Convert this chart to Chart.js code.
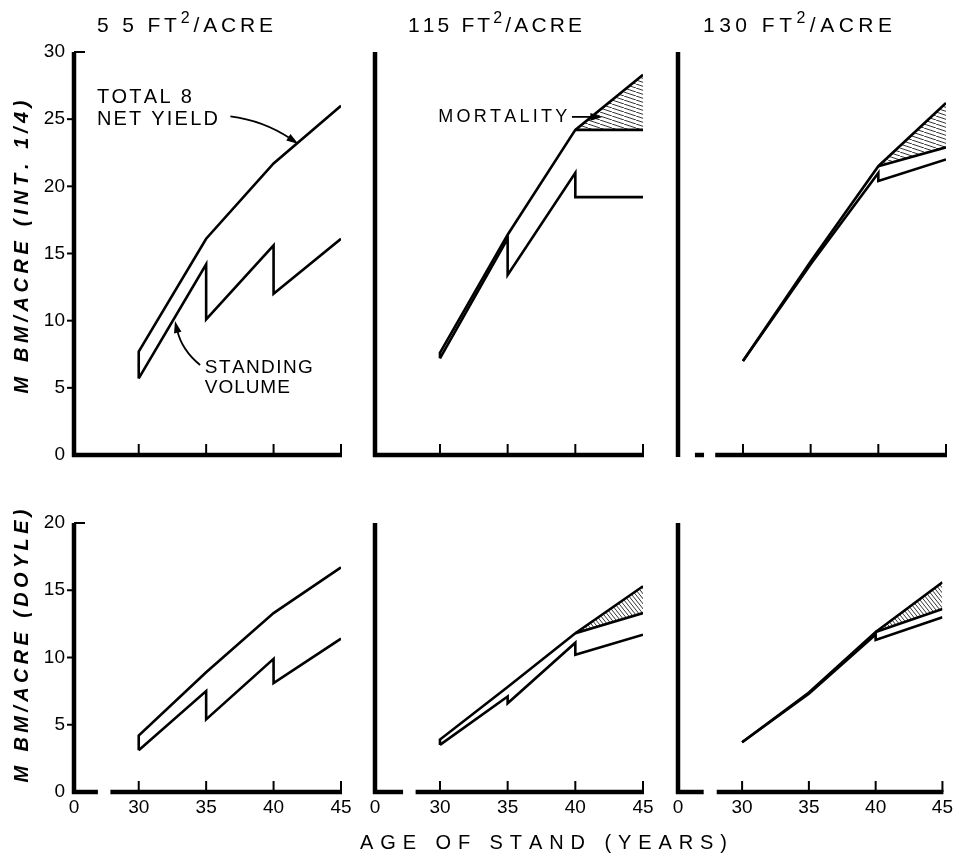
<!DOCTYPE html>
<html>
<head>
<meta charset="utf-8">
<script src="https://cdn.jsdelivr.net/npm/chart.js@4/dist/chart.umd.min.js"></script>
<style>
  body { margin: 0; background: #fff; }
  #figure { position: relative; width: 957px; height: 860px; }
  #figure canvas { position: absolute; left: 0; top: 0; }
</style>
</head>
<body>
<div id="figure">
  <canvas id="top55" width="957" height="860"></canvas>
  <canvas id="top115" width="957" height="860"></canvas>
  <canvas id="top130" width="957" height="860"></canvas>
  <canvas id="bot55" width="957" height="860"></canvas>
  <canvas id="bot115" width="957" height="860"></canvas>
  <canvas id="bot130" width="957" height="860"></canvas>
</div>
<script>
const ages = [30, 35, 40, 45]
const sawAges = [30, 35, 35, 40, 40, 45]
const netAges = [40, 45]
const ageTicks = [30, 35, 40, 45]
const ageTickLabels = ['0', '30', '35', '40', '45']

// M BM/acre, International 1/4 rule (top row)
const total55Int = [7.7, 16.1, 21.7, 26.0]
const stand55Int = [5.7, 14.2, 10.1, 15.6, 12.0, 16.1]
const total115Int = [7.6, 16.4, 24.2, 28.3]
const net115Int = [24.2, 24.2]
const stand115Int = [7.2, 16.1, 13.4, 21.0, 19.2, 19.2]
const total130Int = [7.0, 14.4, 21.5, 26.2]
const net130Int = [21.5, 22.9]
const stand130Int = [7.0, 14.2, 14.2, 21.0, 20.4, 22.0]

// M BM/acre, Doyle rule (bottom row)
const total55Doyle = [4.2, 8.9, 13.3, 16.7]
const stand55Doyle = [3.1, 7.5, 5.4, 9.9, 8.1, 11.4]
const total115Doyle = [3.9, 7.8, 11.8, 15.3]
const net115Doyle = [11.8, 13.3]
const stand115Doyle = [3.5, 7.1, 6.6, 11.1, 10.2, 11.7]
const total130Doyle = [3.7, 7.4, 11.9, 15.6]
const net130Doyle = [11.9, 13.6]
const stand130Doyle = [3.7, 7.3, 7.3, 11.7, 11.3, 13.0]

const family = '"Liberation Sans", Arial, sans-serif'
const xMin = 25.2

Chart.defaults.font.family = family
Chart.defaults.color = '#000'

function makeHatch(w, h) {
  const c = document.createElement('canvas')
  c.width = w
  c.height = h
  const g = c.getContext('2d')
  g.strokeStyle = '#000'
  g.lineWidth = 0.8
  g.beginPath()
  for (const dx of [-w, 0, w]) {
    g.moveTo(dx, 0)
    g.lineTo(dx + w, h)
  }
  g.stroke()
  return g.createPattern(c, 'repeat')
}

const rows = {
  int: { top: 52, bottom: 455, max: 30, labelsX: false, hatch: makeHatch(12, 4) },
  doyle: { top: 523, bottom: 792, max: 20, labelsX: true, hatch: makeHatch(4, 5) },
}

const pairs = (xs, ys) => xs.map((x, i) => ({ x: x, y: ys[i] }))

// text spread to a given width, '²' drawn as a raised small 2
function drawSpread(ctx, text, left, mid, width, size, style) {
  const chars = [...text]
  const fontFor = ch => `${style} ${ch === '²' ? Math.round(size * 0.75) : size}px ${family}`
  const glyph = ch => (ch === '²' ? '2' : ch)
  const widths = chars.map(ch => {
    ctx.font = fontFor(ch)
    return ctx.measureText(glyph(ch)).width
  })
  const natural = widths.reduce((a, b) => a + b, 0)
  const gap = chars.length > 1 ? (width - natural) / (chars.length - 1) : 0
  let x = left
  ctx.textBaseline = 'middle'
  ctx.textAlign = 'left'
  chars.forEach((ch, i) => {
    ctx.font = fontFor(ch)
    ctx.fillText(glyph(ch), x, ch === '²' ? mid - size * 0.33 : mid)
    x += widths[i] + gap
  })
}

function drawArrow(ctx, s, c, t) {
  const ang = Math.atan2(t.y - c.y, t.x - c.x)
  const len = 12
  const half = 3.8
  ctx.lineWidth = 1.8
  ctx.beginPath()
  ctx.moveTo(s.x, s.y)
  ctx.quadraticCurveTo(c.x, c.y, t.x - Math.cos(ang) * len * 0.8, t.y - Math.sin(ang) * len * 0.8)
  ctx.stroke()
  ctx.beginPath()
  ctx.moveTo(t.x, t.y)
  ctx.lineTo(t.x - Math.cos(ang) * len - Math.sin(ang) * half, t.y - Math.sin(ang) * len + Math.cos(ang) * half)
  ctx.lineTo(t.x - Math.cos(ang) * len + Math.sin(ang) * half, t.y - Math.sin(ang) * len - Math.cos(ang) * half)
  ctx.closePath()
  ctx.fill()
}

function makeFrame(p) {
  return {
    id: 'frame',
    afterDraw(chart) {
      const ctx = chart.ctx
      const xs = chart.scales.x
      const ys = chart.scales.y
      const area = chart.chartArea
      const pt = ([x, y]) => ({ x: xs.getPixelForValue(x), y: ys.getPixelForValue(y) })
      ctx.save()
      ctx.strokeStyle = '#000'
      ctx.fillStyle = '#000'

      // y axis
      ctx.lineWidth = 4.5
      ctx.beginPath()
      ctx.moveTo(area.left, area.top)
      ctx.lineTo(area.left, area.bottom + 2)
      ctx.stroke()

      // broken x axis
      p.segments.forEach(([a, b]) => {
        ctx.beginPath()
        ctx.moveTo(xs.getPixelForValue(a) - (a === xMin ? 2 : 0), area.bottom)
        ctx.lineTo(xs.getPixelForValue(b) + 1, area.bottom)
        ctx.stroke()
      })

      // tick marks
      ctx.lineWidth = 2
      ageTicks.forEach(v => {
        const x = xs.getPixelForValue(v)
        ctx.beginPath()
        ctx.moveTo(x, area.bottom)
        ctx.lineTo(x, area.bottom - 11)
        ctx.stroke()
      })
      if (p.yTicks) {
        ys.ticks.forEach(t => {
          if (t.value === 0) return
          const y = ys.getPixelForValue(t.value)
          ctx.beginPath()
          if (t.value === ys.max) {
            ctx.moveTo(area.left, y)
            ctx.lineTo(area.left + 11, y)
          } else {
            ctx.moveTo(area.left - 7, y)
            ctx.lineTo(area.left, y)
          }
          ctx.stroke()
        })
      }

      // titles and notes
      ;(p.labels || []).forEach(l => {
        if (l.rotate) {
          ctx.save()
          ctx.translate(l.x, l.y)
          ctx.rotate(-Math.PI / 2)
          drawSpread(ctx, l.text, -l.w / 2, 0, l.w, l.size, l.style || 'normal')
          ctx.restore()
        } else {
          drawSpread(ctx, l.text, l.x, l.y, l.w, l.size, l.style || 'normal')
        }
      })
      ;(p.notes || []).forEach(n => {
        const q = pt(n.at)
        drawSpread(ctx, n.text, q.x, q.y, n.w, n.size, 'normal')
      })
      ;(p.arrows || []).forEach(a => drawArrow(ctx, pt(a[0]), pt(a[1]), pt(a[2])))
      ctx.restore()
    },
  }
}

const panels = [
  {
    id: 'top55', row: 'int', left: 74, right: 341, yTicks: true,
    total: total55Int, stand: stand55Int, net: null,
    segments: [[xMin, 45]],
    labels: [
      { text: '5 5 FT²/ACRE', x: 97, y: 26, w: 176, size: 21 },
      { text: 'M BM/ACRE (INT. 1/4)', x: 22, y: 247, w: 293, size: 20, style: 'italic bold', rotate: true },
    ],
    notes: [
      { text: 'TOTAL 8', at: [26.9, 26.6], w: 95, size: 20 },
      { text: 'NET YIELD', at: [26.9, 25.0], w: 121, size: 20 },
      { text: 'STANDING', at: [34.9, 6.5], w: 108, size: 19 },
      { text: 'VOLUME', at: [34.9, 5.0], w: 85, size: 19 },
    ],
    arrows: [
      [[36.8, 25.2], [39.2, 24.9], [41.84, 23.16]],
      [[34.55, 6.7], [33.2, 7.8], [32.69, 9.98]],
    ],
  },
  {
    id: 'top115', row: 'int', left: 375, right: 643, yTicks: false,
    total: total115Int, stand: stand115Int, net: net115Int,
    segments: [[xMin, 45]],
    labels: [{ text: '115 FT²/ACRE', x: 408, y: 26, w: 174, size: 21 }],
    notes: [{ text: 'MORTALITY', at: [29.87, 25.17], w: 129, size: 18 }],
    arrows: [[[39.75, 25.17], [40.9, 25.17], [42.0, 25.17]]],
  },
  {
    id: 'top130', row: 'int', left: 678, right: 946, yTicks: false,
    total: total130Int, stand: stand130Int, net: net130Int,
    segments: [[26.45, 27.05], [27.95, 45]],
    labels: [{ text: '130 FT²/ACRE', x: 703, y: 26, w: 189, size: 21 }],
  },
  {
    id: 'bot55', row: 'doyle', left: 74, right: 341, yTicks: true,
    total: total55Doyle, stand: stand55Doyle, net: null,
    segments: [[xMin, 26.9], [27.9, 45]],
    labels: [{ text: 'M BM/ACRE (DOYLE)', x: 22, y: 646, w: 273, size: 20, style: 'italic bold', rotate: true }],
  },
  {
    id: 'bot115', row: 'doyle', left: 375, right: 643, yTicks: false,
    total: total115Doyle, stand: stand115Doyle, net: net115Doyle,
    segments: [[xMin, 27.2], [28.2, 45]],
    labels: [{ text: 'AGE OF STAND (YEARS)', x: 360, y: 843, w: 367, size: 20 }],
  },
  {
    id: 'bot130', row: 'doyle', left: 678, right: 946, yTicks: false,
    total: total130Doyle, stand: stand130Doyle, net: net130Doyle,
    segments: [[xMin, 27.05], [28.1, 45]],
  },
]

function buildChart(p) {
  const row = rows[p.row]
  const datasets = [
    { label: 'Standing volume', data: pairs(sawAges, p.stand) },
    { label: 'Total yield', data: [{ x: ages[0], y: p.stand[0] }, ...pairs(ages, p.total)] },
  ]
  if (p.net) {
    datasets.push({
      label: 'Net yield',
      data: pairs(netAges, p.net),
      fill: { target: 1 },
      backgroundColor: row.hatch,
    })
  }

  new Chart(document.getElementById(p.id), {
    type: 'line',
    data: { datasets: datasets },
    options: {
      responsive: false,
      animation: false,
      devicePixelRatio: 1,
      layout: {
        padding: { left: p.left - 40, right: 957 - p.right, top: row.top, bottom: 860 - row.bottom - 30 },
      },
      elements: {
        line: { borderColor: '#000', borderWidth: 2.6, tension: 0, fill: false, borderJoinStyle: 'miter' },
        point: { radius: 0, hoverRadius: 0 },
      },
      plugins: { legend: { display: false }, tooltip: { enabled: false } },
      scales: {
        x: {
          type: 'linear',
          min: xMin,
          max: 45,
          grid: { display: false, drawTicks: false },
          border: { display: false },
          afterBuildTicks: s => {
            s.ticks = [xMin, ...ageTicks].map(value => ({ value }))
          },
          afterFit: s => {
            s.height = 30
          },
          ticks: {
            display: row.labelsX,
            padding: 4,
            color: '#000',
            font: { size: 19 },
            maxRotation: 0,
            autoSkip: false,
            callback: (v, i) => ageTickLabels[i],
          },
        },
        y: {
          type: 'linear',
          min: 0,
          max: row.max,
          grid: { display: false, drawTicks: false },
          border: { display: false },
          afterFit: s => {
            s.width = 40
          },
          ticks: { display: p.yTicks, stepSize: 5, padding: 9, color: '#000', font: { size: 19 } },
        },
      },
    },
    plugins: [makeFrame(p)],
  })
}

panels.forEach(buildChart)
</script>
</body>
</html>
